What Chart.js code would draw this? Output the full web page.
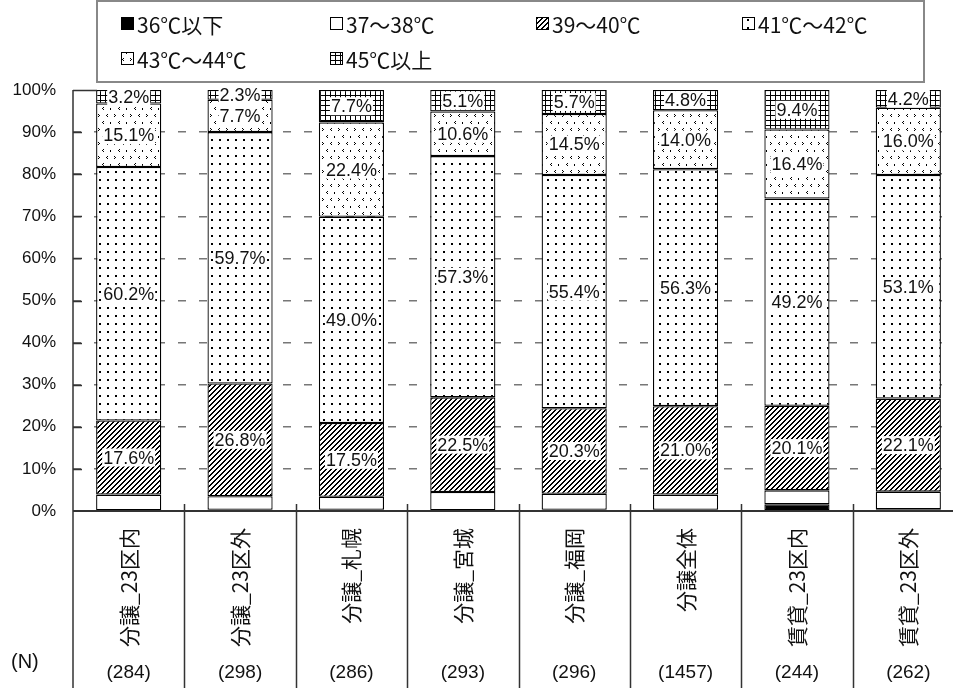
<!DOCTYPE html>
<html>
<head>
<meta charset="utf-8">
<script src="https://cdn.jsdelivr.net/npm/chart.js@4"></script>
<style>
  html, body { margin: 0; padding: 0; background: #fff; overflow: hidden; }
  canvas { display: block; }
</style>
</head>
<body>
<canvas id="tempChart" width="964" height="688"></canvas>
<script>
// カテゴリとサンプル数
const categories = ['分譲_23区内', '分譲_23区外', '分譲_札幌', '分譲_宮城', '分譲_福岡', '分譲全体', '賃貸_23区内', '賃貸_23区外'];
const sampleSizes = ['(284)', '(298)', '(286)', '(293)', '(296)', '(1457)', '(244)', '(262)'];
const seriesNames = ['36℃以下', '37～38℃', '39～40℃', '41℃～42℃', '43℃～44℃', '45℃以上'];

// 各系列の割合 (%)
const below36 = [0.0, 0.3, 0.3, 0.0, 0.3, 0.3, 1.6, 0.4];
const t37to38 = [3.9, 3.2, 3.1, 4.5, 3.8, 3.6, 3.3, 4.2];
const t39to40 = [17.6, 26.8, 17.5, 22.5, 20.3, 21.0, 20.1, 22.1];
const t41to42 = [60.2, 59.7, 49.0, 57.3, 55.4, 56.3, 49.2, 53.1];
const t43to44 = [15.1, 7.7, 22.4, 10.6, 14.5, 14.0, 16.4, 16.0];
const above45 = [3.2, 2.3, 7.7, 5.1, 5.7, 4.8, 9.4, 4.2];

const seriesValues = [below36, t37to38, t39to40, t41to42, t43to44, above45];
// ラベルを表示する系列 (39℃以上)
const labeledSeries = [2, 3, 4, 5];

// 白地に黒のパターンを作る
function makePattern(w, h, draw) {
  const c = document.createElement('canvas');
  c.width = w;
  c.height = h;
  const g = c.getContext('2d');
  g.fillStyle = '#fff';
  g.fillRect(0, 0, w, h);
  g.fillStyle = '#000';
  draw(g);
  return g.createPattern(c, 'repeat');
}

function px(g, x, y) { g.fillRect(x, y, 1, 1); }

const fills = [
  '#000',
  '#fff',
  // 斜線
  makePattern(5, 5, g => {
    for (let i = 0; i < 5; i++) {
      px(g, i, 4 - i);
      px(g, (i + 1) % 5, 4 - i);
    }
  }),
  // 点
  makePattern(8, 8, g => {
    g.fillRect(3, 3, 2, 2);
  }),
  // まばらな < > 模様
  makePattern(16, 14, g => {
    px(g, 2, 2); px(g, 3, 3); px(g, 2, 4);
    px(g, 11, 2); px(g, 10, 3); px(g, 11, 4);
    px(g, 7, 9); px(g, 6, 10); px(g, 7, 11);
    g.fillRect(14, 10, 1, 2);
  }),
  // 格子
  makePattern(5, 5, g => {
    g.fillRect(0, 0, 5, 1);
    g.fillRect(0, 0, 1, 5);
  })
];

const datasets = seriesNames.map((name, i) => ({
  label: name,
  data: seriesValues[i],
  backgroundColor: fills[i],
  borderColor: '#000',
  borderWidth: 1.3,
  borderSkipped: false,
  barPercentage: 0.585,
  categoryPercentage: 1.0
}));

const TEXT = '#111';
const AXIS = '#333';

// 凡例・軸・ラベルの描画
const decorPlugin = {
  id: 'decor',
  afterDatasetsDraw(chart) {
    const ctx = chart.ctx;
    ctx.save();
    ctx.font = '18px "Liberation Sans", Arial, sans-serif';
    ctx.textAlign = 'center';
    ctx.textBaseline = 'middle';
    labeledSeries.forEach(di => {
      const meta = chart.getDatasetMeta(di);
      meta.data.forEach((bar, idx) => {
        const v = seriesValues[di][idx];
        const text = v.toFixed(1) + '%';
        const cy = (bar.y + bar.base) / 2;
        const w = ctx.measureText(text).width;
        ctx.fillStyle = '#fff';
        ctx.fillRect(bar.x - w / 2 - 1, cy - 9, w + 2, 18);
        ctx.fillStyle = TEXT;
        ctx.fillText(text, bar.x, cy + 1);
      });
    });
    ctx.restore();
  },
  afterDraw(chart) {
    const ctx = chart.ctx;
    const area = chart.chartArea;
    const x = chart.scales.x;
    const y = chart.scales.y;
    const H = chart.height;
    const step = (area.right - area.left) / categories.length;
    ctx.save();

    // y軸と内向きの目盛り
    ctx.strokeStyle = AXIS;
    ctx.lineWidth = 1.5;
    ctx.beginPath();
    ctx.moveTo(area.left, area.top);
    ctx.lineTo(area.left, H);
    for (let v = 10; v <= 100; v += 10) {
      const yy = Math.round(y.getPixelForValue(v)) + 0.5;
      ctx.moveTo(area.left, yy);
      ctx.lineTo(area.left + (v === 100 ? 24 : 9), yy);
    }
    ctx.stroke();

    // 0%の基線
    ctx.lineWidth = 2;
    ctx.beginPath();
    ctx.moveTo(area.left, area.bottom);
    ctx.lineTo(area.right, area.bottom);
    ctx.stroke();

    // カテゴリの区切り線
    ctx.lineWidth = 1.5;
    ctx.beginPath();
    for (let i = 1; i <= categories.length; i++) {
      const xx = Math.round(x.getPixelForValue(i - 1) + step / 2) + 0.5;
      ctx.moveTo(xx, area.bottom - 7);
      ctx.lineTo(xx, H);
    }
    ctx.stroke();

    // カテゴリ名（縦書き）とN数
    ctx.fillStyle = TEXT;
    categories.forEach((name, i) => {
      const cx = x.getPixelForValue(i);
      ctx.save();
      ctx.translate(cx, area.bottom + 17);
      ctx.rotate(-Math.PI / 2);
      ctx.font = '21px "Noto Sans CJK JP", sans-serif';
      ctx.textAlign = 'right';
      ctx.textBaseline = 'middle';
      ctx.fillText(name, 0, 0);
      ctx.restore();

      ctx.font = '19px "Liberation Sans", Arial, sans-serif';
      ctx.textAlign = 'center';
      ctx.textBaseline = 'middle';
      ctx.fillText(sampleSizes[i], cx, 673);
    });
    ctx.font = '20px "Liberation Sans", Arial, sans-serif';
    ctx.textAlign = 'left';
    ctx.fillText('(N)', 11, 662);

    // 凡例
    const box = { left: 97, top: 1, right: 924, bottom: 82 };
    ctx.fillStyle = '#fff';
    ctx.fillRect(box.left, box.top, box.right - box.left, box.bottom - box.top);
    ctx.strokeStyle = '#888';
    ctx.lineWidth = 2;
    ctx.strokeRect(box.left, box.top, box.right - box.left, box.bottom - box.top);

    const colX = [121, 330, 536, 742];
    const rowY = [24, 59];
    ctx.font = '21px "Noto Sans CJK JP", sans-serif';
    ctx.textAlign = 'left';
    ctx.textBaseline = 'middle';
    seriesNames.forEach((name, i) => {
      const lx = colX[i % 4];
      const ly = rowY[Math.floor(i / 4)];
      ctx.fillStyle = fills[i];
      ctx.fillRect(lx, ly - 7, 13, 13);
      ctx.strokeStyle = '#000';
      ctx.lineWidth = 1;
      ctx.strokeRect(lx + 0.5, ly - 6.5, 12, 12);
      ctx.fillStyle = TEXT;
      ctx.fillText(name, lx + 16, ly + 1);
    });

    ctx.restore();
  }
};

new Chart(document.getElementById('tempChart'), {
  type: 'bar',
  data: { labels: categories, datasets: datasets },
  options: {
    responsive: false,
    animation: false,
    devicePixelRatio: 1,
    layout: { padding: { top: 90, bottom: 177, left: 0, right: 0 } },
    plugins: {
      legend: { display: false },
      tooltip: { enabled: false }
    },
    scales: {
      x: {
        stacked: true,
        display: false
      },
      y: {
        stacked: true,
        min: 0,
        max: 100,
        afterFit(scale) { scale.width = 73; },
        ticks: {
          stepSize: 10,
          padding: 17,
          color: TEXT,
          font: { family: '"Liberation Sans", Arial, sans-serif', size: 17 },
          callback: v => v + '%'
        },
        border: { display: false, dash: [8, 13] },
        grid: {
          drawTicks: false,
          lineWidth: 1.5,
          color: c => (c.tick && c.tick.value > 0 && c.tick.value < 100) ? '#777' : 'rgba(0,0,0,0)'
        }
      }
    }
  },
  plugins: [decorPlugin]
});
</script>
</body>
</html>
